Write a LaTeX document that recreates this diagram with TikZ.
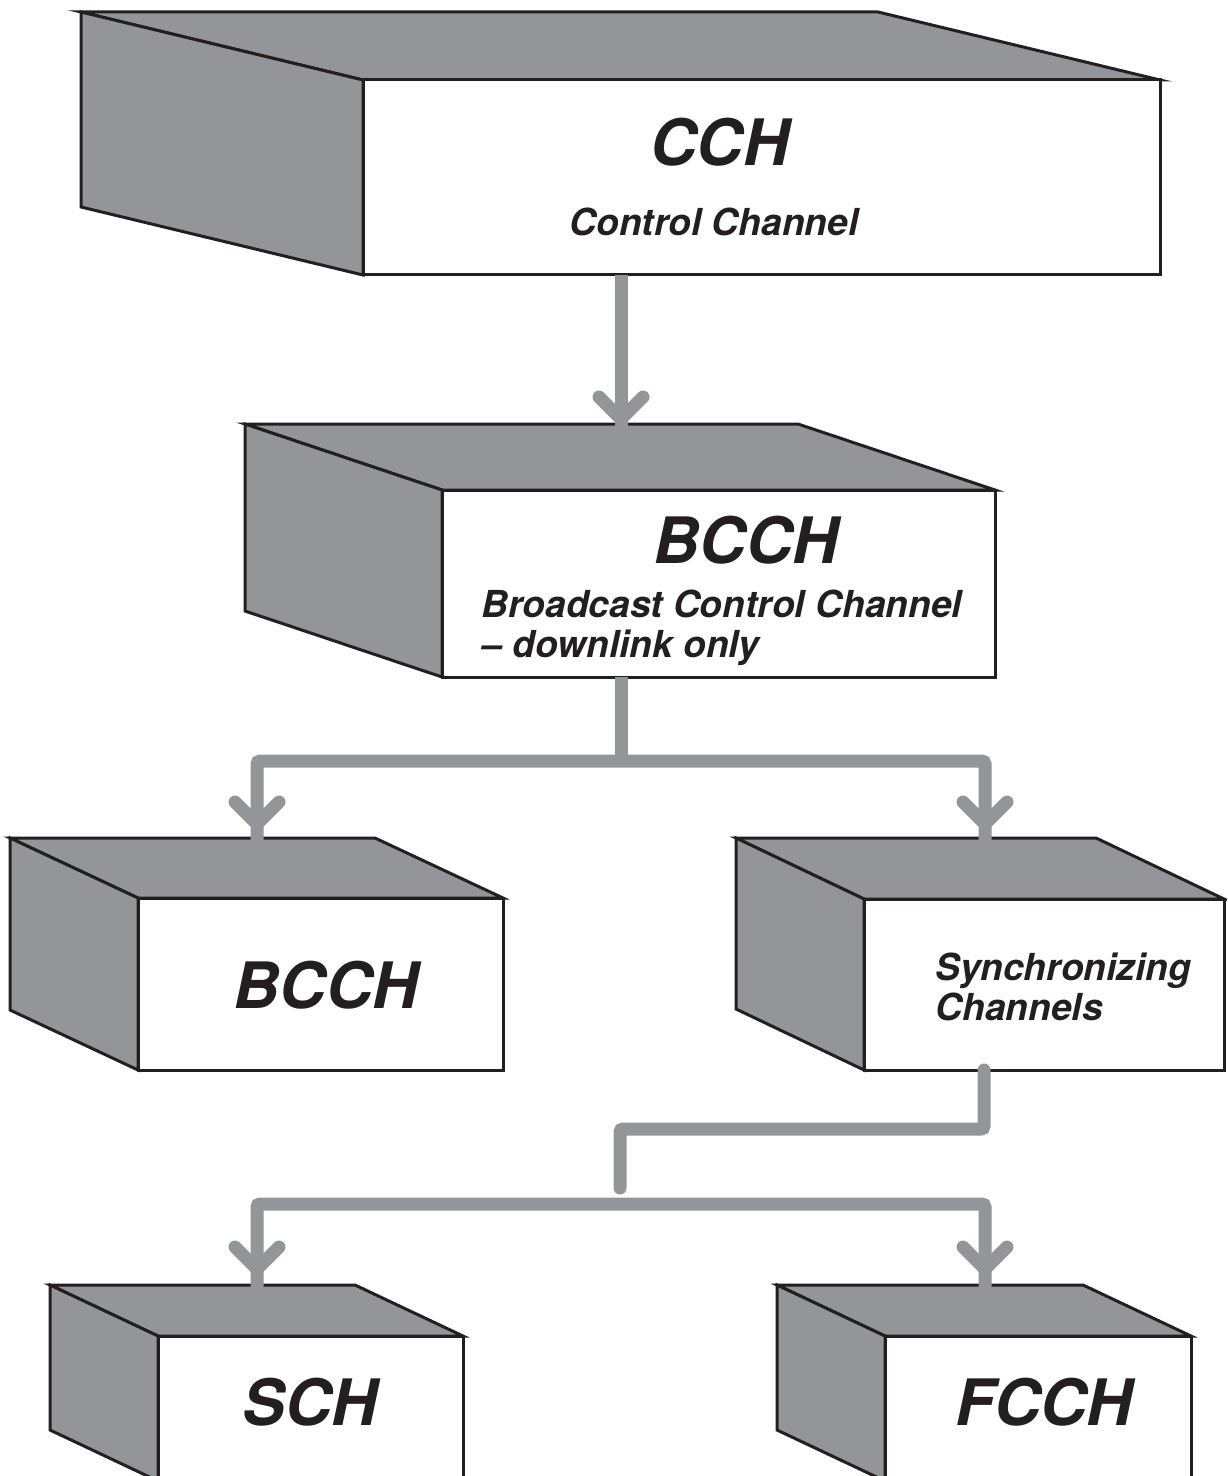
\documentclass[tikz,border=0pt]{standalone}
\usepackage{fontspec}
\setmainfont{TeX Gyre Heros}
\usetikzlibrary{calc}
\definecolor{boxgray}{HTML}{939598}
\definecolor{edgeblack}{HTML}{231F20}
\newcommand\cubebox[7]{%
  \coordinate (#1-back) at ({#2-#6},{#3-#7});
  \filldraw[cubeline, fill=boxgray] ({#2-#6},{#3-#7}) -- ({#4-#6},{#3-#7}) -- (#4,#3) -- (#2,#3) -- cycle;
  \filldraw[cubeline, fill=boxgray] ({#2-#6},{#3-#7}) -- (#2,#3) -- (#2,#5) -- ({#2-#6},{#5-#7}) -- cycle;
  \node[frontface, anchor=north west, minimum width={(#4-#2)*0.5pt}, minimum height={(#5-#3)*0.5pt}] (#1) at (#2,#3) {};
}
\begin{document}
\begin{tikzpicture}[x=0.5pt, y=-0.5pt,
  cubeline/.style={draw=edgeblack, line width=1.5pt, line join=miter},
  frontface/.style={draw=edgeblack, fill=white, line width=1.5pt, inner sep=0pt, outer sep=0pt},
  conn/.style={draw=boxgray, line width=6.5pt, rounded corners=1.5pt},
  chev/.style={draw=boxgray, line width=6.5pt, line cap=round, line join=round},
  big/.style={font=\fontsize{32}{36}\selectfont\bfseries\itshape, inner sep=0pt, anchor=base, text=edgeblack},
  small/.style={font=\fontsize{18.6}{20}\selectfont\bfseries\itshape, inner sep=0pt, text=edgeblack}]
\useasboundingbox (0,0) rectangle (1227,1476);
\clip (0,0) rectangle (1227,1476);

% boxes
\cubebox{cch}{363}{80}{1160}{275}{282}{68}
\cubebox{bcch}{442}{490}{995}{677}{197}{66}
\cubebox{bcchb}{138}{898}{503}{1070}{128}{60}
\cubebox{sync}{864}{899}{1224}{1070}{128}{61}
\cubebox{sch}{158}{1336}{463}{1481}{108}{51}
\cubebox{fcch}{885}{1336}{1191}{1481}{108}{51}

% texts
\node[big] (t-cch) at (720,166) {CCH};
\node[small, anchor=base] (t-cc) at (714,236) {Control Channel};
\node[big] (t-bcch) at (746,563) {BCCH};
\node[small, anchor=base west] (t-bcc1) at (481,617) {Broadcast Control Channel};
\node[small, anchor=base west] (t-bcc2) at (481,657) {– downlink only};
\node[big] (t-bcchb) at (326,1008) {BCCH};
\node[small, anchor=base west] (t-sync1) at (935,980) {Synchronizing};
\node[small, anchor=base west] (t-sync2) at (935,1020) {Channels};
\node[big] (t-sch) at (310,1425) {SCH};
\node[big] (t-fcch) at (1044,1425) {FCCH};

% connector CCH -> BCCH
\coordinate (a1) at (621,0);
\draw[conn] (cch.south -| a1) -- ($(a1 |- bcch-back)+(0,3)$);
\draw[chev] ($(a1 |- bcch-back)+(-22,-27)$) -- ++(22,22) -- ++(22,-22);

% connector BCCH -> BCCH, Synchronizing Channels
\coordinate (j2) at (621,761);
\coordinate (l2) at (257,761);
\coordinate (r2) at (985,761);
\draw[conn] (bcch.south -| j2) -- (j2);
\draw[conn] ($(l2 |- bcchb-back)+(0,3)$) -- (l2) -- (r2) -- ($(r2 |- sync-back)+(0,3)$);
\draw[chev] ($(l2 |- bcchb-back)+(-22,-36)$) -- ++(22,22) -- ++(22,-22);
\draw[chev] ($(r2 |- sync-back)+(-22,-36)$) -- ++(22,22) -- ++(22,-22);

% connector Synchronizing Channels -> SCH, FCCH
\coordinate (s3) at (984,1129);
\coordinate (m3) at (620,1129);
\coordinate (m3b) at (620,1188);
\draw[conn, line cap=round] (sync.south -| s3) -- (s3) -- (m3) -- (m3b);
\coordinate (l4) at (257,1204);
\coordinate (r4) at (985,1204);
\draw[conn] ($(l4 |- sch-back)+(0,3)$) -- (l4) -- (r4) -- ($(r4 |- fcch-back)+(0,3)$);
\draw[chev] ($(l4 |- sch-back)+(-22,-38)$) -- ++(22,22) -- ++(22,-22);
\draw[chev] ($(r4 |- fcch-back)+(-22,-38)$) -- ++(22,22) -- ++(22,-22);
\end{tikzpicture}
\end{document}
